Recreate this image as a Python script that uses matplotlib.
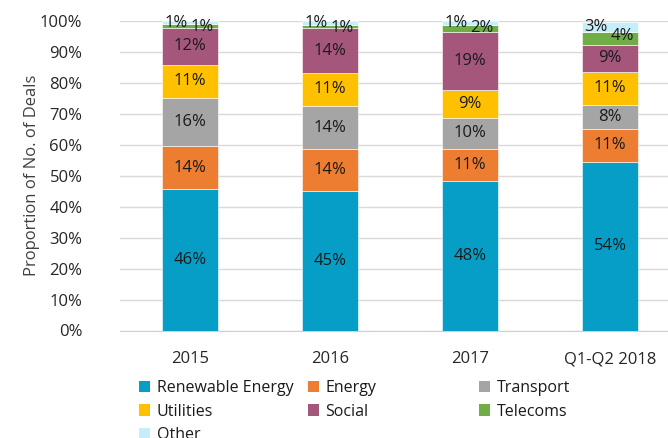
import matplotlib.pyplot as plt
import numpy as np
from matplotlib.patches import Patch

plt.rcParams['font.family'] = ['Open Sans', 'DejaVu Sans']

# Categories and shares (% of number of deals)
periods = ['2015', '2016', '2017', 'Q1-Q2 2018']
sectors = ['Renewable Energy', 'Energy', 'Transport', 'Utilities', 'Social', 'Telecoms', 'Other']
renewable = [45.7, 45.0, 48.2, 54.4]
energy = [13.9, 13.6, 10.6, 10.8]
transport = [15.6, 13.9, 9.8, 7.7]
utilities = [10.7, 10.8, 9.2, 10.7]
social = [11.9, 14.3, 18.6, 8.7]
telecoms = [1.1, 1.2, 2.2, 4.0]
other = [1.1, 1.2, 1.4, 3.4]
yticks = [0, 10, 20, 30, 40, 50, 60, 70, 80, 90, 100]

colors = ['#069ec6', '#ed7d31', '#a5a5a5', '#ffc000', '#a5577b', '#70ad47', '#c6eefa']
series = [renewable, energy, transport, utilities, social, telecoms, other]

fig = plt.figure(figsize=(6.68, 4.38), dpi=100)
ax = fig.add_axes([120 / 668, 1 - 330.5 / 438, 560 / 668, 309.5 / 438])

x = np.arange(len(periods))
bottom = np.zeros(len(periods))
for name, vals, col in zip(sectors, series, colors):
    vals = np.array(vals)
    ax.bar(x, vals, width=0.4, bottom=bottom, color=col, edgecolor='white',
           linewidth=0.4, label=name, zorder=3)
    mids = bottom + vals / 2
    tops = bottom + vals
    for xi, v, m, tp in zip(x, vals, mids, tops):
        lbl = f'{v:.0f}%'
        if name == 'Other':
            ax.text(xi - 0.1, m, lbl, ha='center', va='center', fontsize=12, color='#1a1a1a', zorder=5)
        elif name == 'Telecoms':
            ax.text(xi + 0.085, tp - 1.0, lbl, ha='center', va='center', fontsize=12, color='#1a1a1a', zorder=5)
        else:
            ax.text(xi, m, lbl, ha='center', va='center', fontsize=12, color='#1a1a1a', zorder=5)
    bottom += vals

ax.set_xlim(-0.5, 3.5)
ax.set_ylim(0, 100)
ax.set_yticks(yticks)
ax.set_yticklabels([f'{t}%' for t in yticks])
ax.set_xticks(x)
ax.set_xticklabels(periods)
ax.tick_params(axis='both', length=0, labelsize=12, labelcolor='#262626')
ax.tick_params(axis='y', pad=27)
ax.tick_params(axis='x', pad=15)
ax.grid(axis='y', color='#d9d9d9', linewidth=1, zorder=0)
for s in ['top', 'right', 'left']:
    ax.spines[s].set_visible(False)
ax.spines['bottom'].set_color('#d0d0d0')
ax.set_ylabel('Proportion of No. of Deals', fontsize=12, color='#404040')
ax.yaxis.set_label_coords(-0.143, 0.5)

# Legend laid out in three fixed-width columns, row by row
handles = [Patch(facecolor=c, edgecolor='none') for c in colors]
col_x = [139, 308, 479]
for ci, cx in enumerate(col_x):
    idx = list(range(ci, len(sectors), 3))
    fig.legend([handles[i] for i in idx], [sectors[i] for i in idx],
               loc='upper left', bbox_to_anchor=(cx / 668, 1 - 380 / 438),
               frameon=False, fontsize=11.5, handlelength=0.7, handleheight=0.7,
               handletextpad=0.4, labelspacing=0.48, borderpad=0, borderaxespad=0,
               labelcolor='#1a1a1a')

fig.savefig('out.png', dpi=100)
